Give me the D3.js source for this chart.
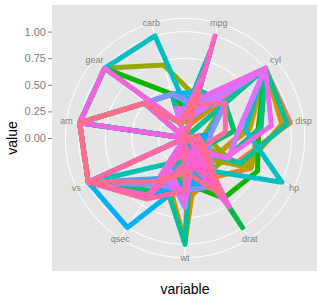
<!DOCTYPE html>
<html>
<head>
<meta charset="utf-8">
<script src="https://cdn.jsdelivr.net/npm/d3@7"></script>
<style>
  body { margin: 0; background: #fff; }
  svg { display: block; font-family: Arial, "Liberation Sans", sans-serif; }
</style>
</head>
<body>
<svg id="chart" width="317" height="296"></svg>
<script>
(function() {

  // cars in factor (alphabetical) order
  var cars = ['AMC Javelin', 'Cadillac Fleetwood', 'Camaro Z28', 'Chrysler Imperial',
    'Datsun 710', 'Dodge Challenger', 'Duster 360', 'Ferrari Dino', 'Fiat 128',
    'Fiat X1-9', 'Ford Pantera L', 'Honda Civic', 'Hornet 4 Drive', 'Hornet Sportabout',
    'Lincoln Continental', 'Lotus Europa', 'Maserati Bora', 'Mazda RX4', 'Mazda RX4 Wag',
    'Merc 230', 'Merc 240D', 'Merc 280', 'Merc 280C', 'Merc 450SE', 'Merc 450SL',
    'Merc 450SLC', 'Pontiac Firebird', 'Porsche 914-2', 'Toyota Corolla',
    'Toyota Corona', 'Valiant', 'Volvo 142E'];

  var variables = ['mpg', 'cyl', 'disp', 'hp', 'drat', 'wt', 'qsec', 'vs', 'am', 'gear', 'carb'];

  // scaled values (0..1), one entry per car above
  var mpg  = [0.204, 0, 0.123, 0.183, 0.528, 0.217, 0.166, 0.396, 0.936, 0.719, 0.230, 0.851, 0.468, 0.353, 0, 0.851,
              0.196, 0.451, 0.451, 0.528, 0.596, 0.374, 0.315, 0.255, 0.294, 0.204, 0.374, 0.664, 1, 0.472, 0.328, 0.468];
  var cyl  = [1, 1, 1, 1, 0, 1, 1, 0.5, 0, 0, 1, 0, 0.5, 1, 1, 0,
              1, 0.5, 0.5, 0, 0, 0.5, 0.5, 1, 1, 1, 1, 0, 0, 0, 0.5, 0];
  var disp = [0.581, 1, 0.696, 0.920, 0.092, 0.616, 0.721, 0.184, 0.019, 0.020, 0.698, 0.011, 0.466, 0.721, 0.970, 0.060,
              0.573, 0.222, 0.222, 0.174, 0.189, 0.241, 0.241, 0.511, 0.511, 0.511, 0.820, 0.123, 0, 0.122, 0.384, 0.124];
  var hp   = [0.346, 0.541, 0.682, 0.629, 0.145, 0.346, 0.682, 0.435, 0.049, 0.049, 0.749, 0, 0.205, 0.435, 0.576, 0.216,
              1, 0.205, 0.205, 0.152, 0.035, 0.251, 0.251, 0.452, 0.452, 0.452, 0.435, 0.138, 0.046, 0.159, 0.187, 0.201];
  var drat = [0.180, 0.078, 0.447, 0.217, 0.502, 0, 0.207, 0.396, 0.608, 0.608, 0.673, 1, 0.147, 0.180, 0.111, 0.465,
              0.359, 0.525, 0.525, 0.535, 0.429, 0.535, 0.535, 0.143, 0.143, 0.143, 0.147, 0.770, 0.673, 0.433, 0, 0.622];
  var wt   = [0.491, 0.956, 0.595, 0.980, 0.206, 0.513, 0.526, 0.321, 0.176, 0.108, 0.424, 0.026, 0.435, 0.493, 1, 0,
              0.526, 0.283, 0.348, 0.419, 0.429, 0.493, 0.493, 0.654, 0.567, 0.580, 0.596, 0.160, 0.082, 0.243, 0.498, 0.324];
  var qsec = [0.333, 0.414, 0.108, 0.348, 0.489, 0.282, 0.160, 0.119, 0.592, 0.524, 0, 0.479, 0.588, 0.300, 0.395, 0.286,
              0.012, 0.233, 0.300, 1, 0.655, 0.452, 0.524, 0.345, 0.369, 0.417, 0.304, 0.262, 0.643, 0.656, 0.681, 0.488];
  var vs   = [0, 0, 0, 0, 1, 0, 0, 0, 1, 1, 0, 1, 1, 0, 0, 1,
              0, 0, 0, 1, 1, 1, 1, 0, 0, 0, 0, 0, 1, 1, 1, 1];
  var am   = [0, 0, 0, 0, 1, 0, 0, 1, 1, 1, 1, 1, 0, 0, 0, 1,
              1, 1, 1, 0, 0, 0, 0, 0, 0, 0, 0, 1, 1, 0, 0, 1];
  var gear = [0, 0, 0, 0, 0.5, 0, 0, 1, 0.5, 0.5, 1, 0.5, 0, 0, 0, 1,
              1, 0.5, 0.5, 0.5, 0.5, 0.5, 0.5, 0, 0, 0, 0, 1, 0.5, 0, 0, 0.5];
  var carb = [0.143, 0.429, 0.429, 0.429, 0, 0.143, 0.429, 0.714, 0, 0, 0.429, 0.143, 0, 0.143, 0.429, 0.143,
              1, 0.429, 0.429, 0.143, 0.143, 0.429, 0.429, 0.286, 0.286, 0.286, 0.143, 0.143, 0, 0, 0, 0.143];

  var rTicks = [0, 0.25, 0.5, 0.75, 1];
  var rTickLabels = ['0.00', '0.25', '0.50', '0.75', '1.00'];

  var columns = { mpg: mpg, cyl: cyl, disp: disp, hp: hp, drat: drat, wt: wt,
                  qsec: qsec, vs: vs, am: am, gear: gear, carb: carb };

  var series = cars.map(function(car, i) {
    return { car: car, values: variables.map(function(v) { return columns[v][i]; }) };
  });

  // layout
  var panel = { x: 52, y: 5, size: 266 };
  var cx = panel.x + panel.size / 2,
      cy = panel.y + panel.size / 2;

  var theta = d3.scalePoint()
    .domain(variables)
    .range([0, 2 * Math.PI])
    .padding(0.5);

  var r = d3.scaleLinear()
    .domain([0, 1])
    .range([0, 0.4 * panel.size]);

  var outerR = 0.45 * panel.size;

  // ggplot-style hue palette (polarLUV, c = 100, l = 65)
  function hclLuv(h, c, l) {
    var hr = h * Math.PI / 180;
    var U = c * Math.cos(hr), V = c * Math.sin(hr);
    var Y = l > 8 ? Math.pow((l + 16) / 116, 3) : l / 903.3;
    var Xn = 0.95047, Yn = 1, Zn = 1.08883;
    var un = 4 * Xn / (Xn + 15 * Yn + 3 * Zn),
        vn = 9 * Yn / (Xn + 15 * Yn + 3 * Zn);
    var u = U / (13 * l) + un, v = V / (13 * l) + vn;
    var X = Y * 9 * u / (4 * v);
    var Z = Y * (12 - 3 * u - 20 * v) / (4 * v);
    var rgb = [
      3.240479 * X - 1.537150 * Y - 0.498535 * Z,
      -0.969256 * X + 1.875992 * Y + 0.041556 * Z,
      0.055648 * X - 0.204043 * Y + 1.057311 * Z
    ].map(function(t) {
      t = t > 0.0031308 ? 1.055 * Math.pow(t, 1 / 2.4) - 0.055 : 12.92 * t;
      return Math.round(Math.max(0, Math.min(1, t)) * 255);
    });
    return d3.rgb(rgb[0], rgb[1], rgb[2]).formatHex();
  }

  var hues = cars.map(function(d, i) { return 15 + i * 360 / cars.length; });
  var color = d3.scaleOrdinal()
    .domain(cars)
    .range(hues.map(function(h) { return hclLuv(h, 100, 65); }));

  var svg = d3.select('#chart');

  svg.append('rect')
    .attr('x', panel.x)
    .attr('y', panel.y)
    .attr('width', panel.size)
    .attr('height', panel.size)
    .attr('fill', '#e5e5e5');

  var g = svg.append('g')
    .attr('transform', 'translate(' + cx + ',' + cy + ')');

  // spokes
  g.selectAll('.spoke')
    .data(variables)
    .enter().append('line')
    .attr('class', 'spoke')
    .attr('x1', 0).attr('y1', 0)
    .attr('x2', function(d) { return outerR * Math.sin(theta(d)); })
    .attr('y2', function(d) { return -outerR * Math.cos(theta(d)); })
    .attr('stroke', '#fff')
    .attr('stroke-width', 1);

  // circles
  g.selectAll('.ring')
    .data(rTicks.map(r).concat([outerR]))
    .enter().append('circle')
    .attr('class', 'ring')
    .attr('r', function(d) { return d; })
    .attr('fill', 'none')
    .attr('stroke', '#fff')
    .attr('stroke-width', 1);

  var line = d3.lineRadial()
    .angle(function(d, i) { return theta(variables[i]); })
    .radius(function(d) { return r(d); })
    .curve(d3.curveLinearClosed);

  g.selectAll('.car')
    .data(series)
    .enter().append('path')
    .attr('class', 'car')
    .attr('d', function(d) { return line(d.values); })
    .attr('fill', 'none')
    .attr('stroke', function(d) { return color(d.car); })
    .attr('stroke-width', 5)
    .attr('stroke-linejoin', 'round');

  // theta labels
  g.selectAll('.vlabel')
    .data(variables)
    .enter().append('text')
    .attr('class', 'vlabel')
    .attr('x', function(d) { return outerR * Math.sin(theta(d)); })
    .attr('y', function(d) { return -outerR * Math.cos(theta(d)); })
    .attr('dy', '0.35em')
    .attr('text-anchor', 'middle')
    .style('font-size', '9px')
    .style('fill', '#7f7f7f')
    .text(function(d) { return d; });

  // radial axis on the left
  var yAxis = d3.scaleLinear()
    .domain([0, 1])
    .range([cy, cy - r(1)]);

  var axis = svg.append('g')
    .attr('transform', 'translate(' + panel.x + ',0)')
    .call(d3.axisLeft(yAxis)
      .tickValues(rTicks)
      .tickFormat(function(d, i) { return rTickLabels[i]; })
      .tickSize(4)
      .tickPadding(2));
  axis.select('.domain').remove();
  axis.selectAll('.tick line').attr('stroke', '#7f7f7f');
  axis.selectAll('.tick text')
    .style('font-size', '11px')
    .style('fill', '#7f7f7f');

  // axis titles
  svg.append('text')
    .attr('x', cx)
    .attr('y', 294)
    .attr('text-anchor', 'middle')
    .style('font-size', '14px')
    .style('fill', '#000')
    .text('variable');

  svg.append('text')
    .attr('transform', 'translate(17,' + cy + ') rotate(-90)')
    .attr('text-anchor', 'middle')
    .style('font-size', '14px')
    .style('fill', '#000')
    .text('value');
})();
</script>
</body>
</html>
